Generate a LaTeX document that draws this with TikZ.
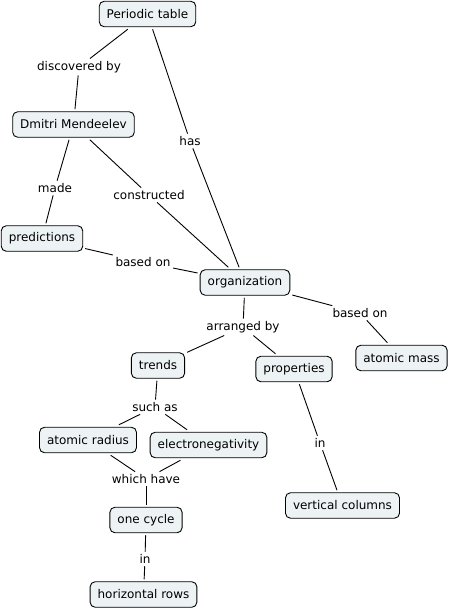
\documentclass[tikz,border=0pt]{standalone}
\usepackage{fontspec}
\setmainfont{DejaVu Sans}
\definecolor{conceptfill}{RGB}{237,243,245}

\begin{document}
\begin{tikzpicture}[
    x=1pt, y=-1pt,
    font=\fontsize{12}{14}\selectfont,
    concept/.style={draw=black, line width=0.9pt, fill=conceptfill, rounded corners=5pt,
                    inner xsep=7.5pt, minimum height=25.5pt, outer sep=2.5pt},
    linkword/.style={fill=white, inner sep=2.5pt},
    conn/.style={draw=black, line width=0.9pt}
]
\useasboundingbox (0,0) rectangle (450,608);

% ---- Conceptos ----
\node[concept] (ptable) at (147.5,14) {Periodic table};
\node[concept] (mendel) at (73.5,124.5) {Dmitri Mendeelev};
\node[concept] (predic) at (42,238.5) {predictions};
\node[concept] (organiz) at (245,282.5) {organization};
\node[concept] (amass) at (401.5,358) {atomic mass};
\node[concept] (trends) at (158,365.5) {trends};
\node[concept] (props) at (294,369) {properties};
\node[concept] (aradius) at (88,440) {atomic radius};
\node[concept] (electro) at (208.5,445) {electronegativity};
\node[concept] (vcols) at (342.5,505.5) {vertical columns};
\node[concept] (cycle) at (146,520) {one cycle};
\node[concept] (hrows) at (143.5,594.5) {horizontal rows};

% ---- Frases de enlace ----
\node[linkword] (discov) at (79,67) {discovered by};
\node[linkword] (has) at (190,141) {has};
\node[linkword] (made) at (55,188) {made};
\node[linkword] (constr) at (149,195) {constructed};
\node[linkword] (basedl) at (143,262) {based on};
\node[linkword] (arrang) at (243,327) {arranged by};
\node[linkword] (basedr) at (360,313) {based on};
\node[linkword] (suchas) at (155,407) {such as};
\node[linkword] (whichh) at (146,479) {which have};
\node[linkword] (inv) at (320,443) {in};
\node[linkword] (inh) at (145,559) {in};

% ---- Conectores ----
\draw[conn] (ptable) -- (discov);
\draw[conn] (discov) -- (mendel);
\draw[conn] (ptable) -- (has);
\draw[conn] (has) -- (organiz);
\draw[conn] (mendel) -- (made);
\draw[conn] (made) -- (predic);
\draw[conn] (mendel) -- (constr);
\draw[conn] (constr) -- (organiz);
\draw[conn] (predic) -- (basedl);
\draw[conn] (basedl) -- (organiz);
\draw[conn] (organiz) -- (arrang);
\draw[conn] (arrang) -- (trends);
\draw[conn] (arrang) -- (props);
\draw[conn] (organiz) -- (basedr);
\draw[conn] (basedr) -- (amass);
\draw[conn] (trends) -- (suchas);
\draw[conn] (suchas) -- (aradius);
\draw[conn] (suchas) -- (electro);
\draw[conn] (aradius) -- (whichh);
\draw[conn] (electro) -- (whichh);
\draw[conn] (whichh) -- (cycle);
\draw[conn] (props) -- (inv);
\draw[conn] (inv) -- (vcols);
\draw[conn] (cycle) -- (inh);
\draw[conn] (inh) -- (hrows);

\end{tikzpicture}
\end{document}
